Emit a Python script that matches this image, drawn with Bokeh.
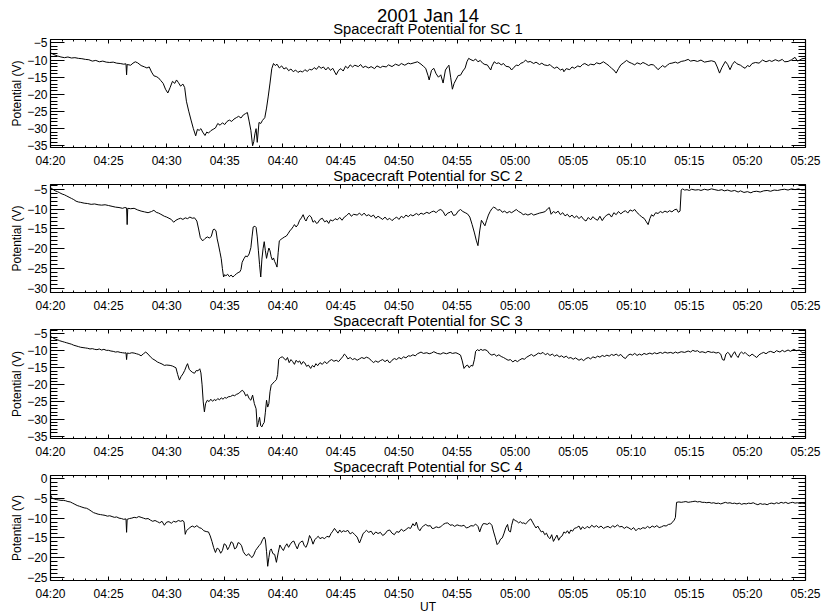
import math
from bokeh.plotting import figure
from bokeh.models import Range1d, LinearAxis, FixedTicker, SingleIntervalTicker, Title
from bokeh.layouts import column
from bokeh.embed import file_html
from bokeh.resources import INLINE

# ---------------- data ----------------
main_title = "2001 Jan 14"
panel_titles = ["Spacecraft Potential for SC 1", "Spacecraft Potential for SC 2",
                "Spacecraft Potential for SC 3", "Spacecraft Potential for SC 4"]
tick_labels = ["04:20", "04:25", "04:30", "04:35", "04:40", "04:45", "04:50",
               "04:55", "05:00", "05:05", "05:10", "05:15", "05:20", "05:25"]
y_label = "Potential (V)"
x_label = "UT"
y_ranges = [(-35.5, -4.0), (-31.0, -3.8), (-35.7, -3.8), (-25.8, 0.8)]

# (minutes after 04:20, potential V)
sc1 = [
(0.0,-7.9),(0.3,-8.4),(0.6,-8.8),(0.9,-9.1),(1.2,-9.3),(1.5,-9.1),(1.8,-9.4),(2.1,-9.3),(2.4,-9.5),(2.7,-9.6),
(3.0,-9.8),(3.3,-9.9),(3.6,-10.3),(3.9,-10.1),(4.2,-10.5),(4.5,-10.3),(4.8,-10.6),(5.1,-10.7),(5.4,-10.6),(5.7,-10.9),
(6.0,-11.0),(6.3,-11.2),(6.5,-11.1),(6.55,-14.3),(6.6,-11.3),(6.9,-11.5),(7.1,-10.9),(7.3,-10.5),(7.5,-10.8),(7.8,-11.6),
(8.1,-12.0),(8.3,-12.3),(8.5,-12.0),(8.7,-13.5),(8.9,-14.6),(9.1,-14.8),(9.3,-15.2),(9.5,-16.0),(9.7,-16.8),(9.9,-18.5),
(10.1,-19.6),(10.3,-18.0),(10.5,-16.2),(10.7,-16.8),(10.85,-15.8),(11.0,-16.5),(11.2,-17.6),(11.4,-17.0),(11.55,-18.0),(11.7,-22.0),
(11.9,-24.9),(12.1,-27.5),(12.3,-30.0),(12.5,-32.1),(12.65,-30.2),(12.8,-30.5),(12.95,-30.0),(13.1,-31.0),(13.3,-32.0),(13.45,-31.0),
(13.6,-31.3),(13.8,-30.6),(14.0,-30.2),(14.2,-29.8),(14.4,-28.5),(14.6,-29.0),(14.8,-28.3),(15.0,-28.8),(15.2,-27.9),(15.4,-27.5),
(15.6,-27.9),(15.8,-27.2),(16.0,-26.8),(16.2,-26.4),(16.4,-26.9),(16.6,-26.0),(16.8,-25.6),(16.95,-25.3),(17.1,-27.8),(17.25,-30.5),
(17.4,-35.0),(17.5,-33.8),(17.6,-31.5),(17.7,-30.0),(17.8,-34.0),(17.95,-28.2),(18.1,-28.5),(18.25,-27.6),(18.45,-26.8),(18.6,-24.0),
(18.75,-20.5),(18.9,-16.7),(19.05,-12.5),(19.2,-11.0),(19.35,-11.6),(19.5,-11.2),(19.7,-12.3),(19.9,-11.7),(20.1,-12.6),(20.3,-12.2),
(20.5,-13.1),(20.7,-12.6),(20.9,-13.4),(21.1,-12.9),(21.3,-13.6),(21.5,-13.2),(21.7,-13.5),(21.9,-12.8),(22.1,-13.3),(22.3,-12.7),
(22.5,-12.9),(22.7,-12.2),(22.9,-12.7),(23.1,-11.8),(23.3,-12.4),(23.5,-12.0),(23.7,-12.9),(23.9,-12.1),(24.1,-13.0),(24.3,-12.4),
(24.6,-14.3),(24.8,-13.0),(25.0,-12.5),(25.2,-13.2),(25.4,-11.8),(25.6,-12.4),(25.8,-11.4),(26.0,-12.0),(26.2,-11.5),(26.5,-11.9),
(26.7,-11.3),(26.9,-12.2),(27.1,-11.8),(27.4,-12.3),(27.6,-11.9),(27.9,-12.5),(28.1,-11.7),(28.4,-12.2),(28.6,-11.8),(28.9,-12.0),
(29.1,-11.4),(29.4,-11.9),(29.7,-11.2),(30.0,-11.6),(30.2,-11.0),(30.5,-11.5),(30.8,-10.9),(31.0,-11.1),(31.3,-10.8),(31.6,-10.5),
(31.9,-11.2),(32.1,-11.8),(32.3,-12.4),(32.5,-14.5),(32.6,-15.8),(32.8,-13.0),(33.0,-12.4),(33.2,-14.0),(33.4,-15.0),(33.6,-14.3),
(33.8,-16.7),(34.0,-12.9),(34.2,-11.9),(34.3,-11.5),(34.45,-15.0),(34.6,-18.5),(34.75,-16.8),(34.9,-15.8),(35.1,-14.5),(35.3,-14.4),
(35.5,-13.2),(35.7,-12.3),(35.85,-10.5),(36.0,-9.5),(36.2,-9.9),(36.4,-10.2),(36.6,-9.7),(36.8,-10.5),(37.0,-10.1),(37.2,-10.9),
(37.4,-11.3),(37.6,-11.4),(37.9,-12.9),(38.0,-11.8),(38.2,-10.5),(38.4,-11.0),(38.6,-10.8),(38.8,-11.4),(39.0,-11.0),(39.2,-11.8),
(39.5,-12.0),(39.7,-12.9),(39.9,-12.1),(40.1,-11.5),(40.3,-11.6),(40.5,-10.9),(40.7,-10.7),(40.9,-10.0),(41.1,-10.6),(41.3,-10.4),
(41.6,-11.0),(41.8,-10.6),(42.1,-11.3),(42.3,-10.9),(42.5,-11.4),(42.8,-11.6),(43.0,-11.3),(43.2,-12.0),(43.4,-12.4),(43.6,-12.0),
(43.9,-12.9),(44.1,-12.6),(44.2,-13.4),(44.4,-12.5),(44.7,-12.8),(44.9,-12.0),(45.1,-12.4),(45.4,-11.7),(45.6,-12.0),(45.8,-11.3),
(46.0,-11.0),(46.3,-11.6),(46.5,-11.2),(46.8,-11.4),(47.0,-10.8),(47.3,-11.1),(47.6,-10.5),(47.9,-11.2),(48.1,-11.7),(48.3,-12.4),
(48.5,-12.9),(48.7,-13.8),(48.9,-12.5),(49.1,-11.4),(49.3,-10.9),(49.6,-10.1),(49.8,-10.6),(50.0,-10.9),(50.3,-11.4),(50.5,-10.8),
(50.8,-11.2),(51.0,-10.7),(51.2,-11.0),(51.5,-11.6),(51.7,-11.3),(51.9,-11.4),(52.1,-12.0),(52.3,-12.8),(52.5,-12.2),(52.7,-11.6),
(52.9,-12.1),(53.1,-11.5),(53.3,-11.0),(53.5,-10.9),(53.8,-10.6),(54.0,-10.9),(54.3,-10.4),(54.6,-10.2),(54.9,-9.8),(55.1,-10.3),
(55.4,-10.1),(55.7,-10.4),(56.0,-10.0),(56.3,-10.6),(56.6,-10.4),(56.9,-10.2),(57.2,-10.5),(57.4,-12.0),(57.6,-13.8),(57.8,-12.2),
(58.1,-10.4),(58.3,-11.3),(58.5,-12.8),(58.7,-11.3),(58.9,-10.4),(59.1,-11.1),(59.4,-11.5),(59.6,-12.0),(59.8,-12.4),(60.0,-11.6),
(60.2,-11.9),(60.4,-11.0),(60.7,-10.7),(61.0,-10.9),(61.3,-10.0),(61.6,-10.5),(61.9,-10.1),(62.1,-10.4),(62.4,-9.9),(62.7,-10.3),
(63.0,-9.8),(63.2,-10.5),(63.5,-10.4),(63.8,-9.9),(64.1,-9.2),(64.3,-10.3),(64.5,-10.0),(64.7,-9.6),(65.0,-9.5),
]

sc2 = [
(0.0,-4.6),(0.2,-5.0),(0.4,-5.4),(0.6,-5.6),(0.8,-5.9),(1.0,-6.2),(1.2,-6.4),(1.4,-6.7),(1.6,-7.0),(1.8,-7.3),
(2.0,-7.6),(2.2,-8.0),(2.4,-8.2),(2.6,-8.3),(2.9,-8.5),(3.2,-8.6),(3.5,-8.8),(3.8,-8.7),(4.1,-8.9),(4.4,-9.0),
(4.7,-8.9),(5.0,-9.1),(5.3,-9.3),(5.6,-9.5),(5.9,-9.6),(6.2,-9.8),(6.4,-9.6),(6.55,-9.7),(6.6,-13.9),(6.65,-9.8),
(6.9,-9.9),(7.2,-9.8),(7.5,-10.2),(7.8,-10.5),(8.1,-10.7),(8.4,-10.9),(8.7,-10.6),(8.9,-10.3),(9.1,-10.8),(9.3,-11.0),
(9.5,-11.3),(9.8,-11.8),(10.0,-12.0),(10.2,-12.3),(10.4,-12.6),(10.6,-13.3),(10.8,-12.8),(11.0,-12.5),(11.2,-12.3),(11.4,-12.6),
(11.6,-12.2),(11.8,-12.4),(12.0,-12.0),(12.2,-12.3),(12.4,-12.2),(12.6,-13.0),(12.75,-15.0),(12.9,-17.2),(13.1,-18.0),(13.3,-17.4),
(13.5,-17.0),(13.7,-17.3),(13.85,-16.8),(14.0,-15.2),(14.1,-15.0),(14.25,-15.5),(14.35,-17.5),(14.45,-18.8),(14.6,-21.0),(14.7,-22.5),
(14.8,-25.0),(14.9,-27.1),(15.0,-26.5),(15.1,-26.8),(15.25,-26.4),(15.4,-27.0),(15.55,-26.6),(15.7,-27.1),(15.85,-26.7),(16.0,-26.3),
(16.15,-26.0),(16.3,-25.8),(16.4,-25.2),(16.5,-23.4),(16.65,-22.5),(16.8,-21.8),(16.95,-22.0),(17.1,-21.3),(17.25,-19.7),(17.35,-17.0),
(17.45,-14.5),(17.6,-14.3),(17.7,-14.6),(17.8,-17.0),(17.9,-20.5),(18.0,-24.0),(18.1,-27.1),(18.2,-22.6),(18.3,-20.0),(18.4,-18.2),
(18.5,-20.5),(18.6,-22.4),(18.7,-21.0),(18.8,-19.8),(18.9,-20.5),(19.0,-22.0),(19.1,-22.8),(19.2,-22.3),(19.3,-23.2),(19.4,-23.8),
(19.5,-24.6),(19.6,-21.0),(19.7,-18.0),(19.85,-17.6),(20.0,-17.3),(20.15,-17.0),(20.3,-16.8),(20.45,-16.2),(20.6,-15.5),(20.75,-15.0),
(20.9,-14.4),(21.0,-13.9),(21.15,-14.5),(21.3,-13.9),(21.45,-12.8),(21.6,-12.2),(21.75,-11.4),(21.9,-12.6),(22.0,-13.0),(22.15,-12.0),
(22.3,-11.6),(22.45,-12.0),(22.6,-13.3),(22.75,-12.9),(22.9,-13.6),(23.0,-13.5),(23.2,-12.6),(23.4,-12.3),(23.6,-13.2),(23.8,-12.9),
(23.95,-13.6),(24.1,-12.7),(24.3,-13.0),(24.5,-12.4),(24.7,-12.7),(24.9,-12.1),(25.1,-12.8),(25.3,-12.0),(25.5,-11.6),(25.7,-11.0),
(25.9,-11.8),(26.1,-11.3),(26.4,-11.5),(26.6,-11.0),(26.8,-11.6),(27.0,-11.0),(27.2,-11.7),(27.4,-11.4),(27.6,-11.9),(27.8,-11.5),
(28.0,-12.3),(28.2,-11.8),(28.4,-12.2),(28.6,-12.6),(28.8,-12.0),(29.0,-12.7),(29.2,-12.3),(29.4,-12.9),(29.6,-12.4),(29.8,-12.0),
(30.0,-12.6),(30.2,-11.8),(30.4,-12.2),(30.6,-11.5),(30.8,-11.9),(31.0,-11.4),(31.2,-11.7),(31.5,-11.1),(31.7,-11.5),(31.9,-11.0),
(32.1,-11.3),(32.4,-10.8),(32.6,-11.1),(32.8,-10.7),(33.0,-10.5),(33.2,-10.9),(33.4,-10.3),(33.6,-10.1),(33.8,-10.6),(34.0,-11.7),
(34.2,-11.0),(34.4,-10.8),(34.5,-10.5),(34.7,-11.6),(34.9,-11.4),(35.1,-10.5),(35.3,-10.1),(35.5,-10.6),(35.7,-10.9),(35.9,-11.2),
(36.1,-12.0),(36.3,-13.9),(36.5,-16.0),(36.65,-17.8),(36.8,-19.2),(36.95,-15.5),(37.1,-12.8),(37.25,-13.5),(37.4,-14.2),(37.55,-12.8),
(37.7,-11.5),(37.85,-10.6),(38.0,-9.9),(38.15,-9.5),(38.35,-9.8),(38.5,-10.3),(38.7,-10.1),(38.9,-10.8),(39.1,-10.5),(39.3,-11.0),
(39.5,-10.6),(39.7,-10.9),(39.9,-10.5),(40.1,-10.1),(40.3,-10.6),(40.5,-10.9),(40.7,-11.4),(40.9,-11.2),(41.1,-11.5),(41.4,-11.1),
(41.6,-11.5),(41.9,-11.2),(42.1,-11.0),(42.4,-10.8),(42.6,-10.6),(42.8,-9.9),(42.95,-9.6),(43.1,-11.3),(43.3,-10.6),(43.5,-11.0),
(43.7,-10.5),(43.9,-11.4),(44.1,-10.9),(44.3,-11.7),(44.5,-11.3),(44.7,-12.0),(44.9,-11.5),(45.1,-12.2),(45.3,-11.7),(45.5,-12.4),
(45.7,-11.8),(45.9,-12.6),(46.1,-13.0),(46.3,-12.1),(46.5,-12.7),(46.7,-11.9),(46.9,-12.5),(47.1,-12.8),(47.3,-11.8),(47.5,-12.9),
(47.7,-12.0),(47.9,-11.5),(48.1,-11.2),(48.3,-12.0),(48.5,-10.9),(48.7,-11.4),(48.9,-10.6),(49.1,-11.2),(49.3,-10.7),(49.5,-10.4),
(49.7,-11.0),(49.9,-10.2),(50.1,-10.5),(50.3,-10.1),(50.5,-10.9),(50.7,-11.4),(50.9,-12.0),(51.1,-12.3),(51.3,-13.2),(51.45,-13.9),
(51.6,-12.4),(51.75,-11.4),(51.9,-11.8),(52.1,-10.9),(52.3,-11.1),(52.5,-10.6),(52.7,-10.9),(52.9,-10.5),(53.1,-10.8),(53.3,-10.4),
(53.5,-10.7),(53.7,-10.2),(53.9,-10.0),(54.05,-10.8),(54.2,-10.5),(54.3,-5.2),(54.4,-4.9),(54.6,-5.2),(54.8,-5.1),(55.0,-5.3),
(55.2,-5.0),(55.5,-5.2),(55.8,-5.1),(56.0,-5.3),(56.3,-5.0),(56.6,-5.2),(56.9,-4.9),(57.2,-5.1),(57.5,-5.3),(57.8,-5.1),
(58.0,-5.4),(58.3,-5.2),(58.6,-5.5),(58.9,-5.3),(59.2,-5.7),(59.4,-5.4),(59.7,-5.8),(60.0,-5.6),(60.3,-5.9),(60.5,-5.6),
(60.8,-5.5),(61.1,-5.7),(61.4,-5.4),(61.7,-5.3),(62.0,-5.5),(62.3,-5.2),(62.6,-5.3),(62.9,-5.1),(63.2,-5.0),(63.5,-5.2),
(63.8,-4.9),(64.1,-5.1),(64.4,-4.9),(64.7,-5.2),(65.0,-5.1),
]

sc3 = [
(0.0,-5.8),(0.2,-6.2),(0.4,-6.6),(0.6,-6.8),(0.8,-7.1),(1.0,-7.3),(1.2,-7.5),(1.4,-7.7),(1.6,-7.9),(1.8,-8.1),
(2.0,-8.4),(2.2,-8.6),(2.4,-8.8),(2.6,-9.0),(2.8,-9.1),(3.0,-9.2),(3.2,-9.3),(3.4,-9.5),(3.6,-9.4),(3.8,-9.6),
(4.0,-9.7),(4.2,-9.5),(4.4,-9.8),(4.6,-9.6),(4.8,-9.9),(5.0,-9.9),(5.2,-10.1),(5.4,-10.2),(5.6,-10.4),(5.8,-10.3),
(6.0,-10.5),(6.2,-10.6),(6.4,-10.7),(6.5,-10.6),(6.55,-12.6),(6.6,-10.7),(6.8,-10.8),(7.0,-10.6),(7.2,-10.7),(7.4,-10.9),
(7.6,-11.1),(7.8,-11.5),(8.0,-10.9),(8.2,-10.4),(8.4,-11.0),(8.6,-11.8),(8.8,-12.4),(9.0,-12.8),(9.2,-13.3),(9.4,-13.6),
(9.6,-13.9),(9.8,-14.3),(10.0,-14.2),(10.3,-14.3),(10.5,-14.5),(10.8,-15.0),(10.95,-17.0),(11.1,-18.6),(11.25,-17.5),(11.4,-16.8),
(11.55,-15.8),(11.7,-14.5),(11.8,-13.8),(11.95,-15.5),(12.1,-16.0),(12.25,-16.4),(12.4,-16.6),(12.55,-15.8),(12.7,-15.9),(12.85,-15.3),
(12.95,-16.5),(13.05,-20.0),(13.15,-25.0),(13.25,-27.9),(13.35,-25.5),(13.5,-24.5),(13.65,-24.9),(13.8,-24.2),(13.95,-24.8),(14.1,-24.3),
(14.25,-24.6),(14.4,-24.0),(14.55,-24.4),(14.7,-23.8),(14.85,-24.2),(15.0,-23.7),(15.15,-23.9),(15.3,-23.5),(15.5,-23.4),(15.7,-23.0),
(15.85,-23.2),(16.0,-22.8),(16.15,-22.6),(16.3,-22.2),(16.5,-21.6),(16.65,-22.0),(16.8,-23.2),(16.95,-22.8),(17.1,-24.0),(17.25,-24.5),
(17.4,-23.0),(17.55,-25.5),(17.7,-27.0),(17.8,-32.3),(17.9,-31.0),(18.0,-29.5),(18.1,-32.0),(18.2,-32.3),(18.3,-31.5),(18.4,-31.0),
(18.5,-28.0),(18.6,-24.5),(18.7,-26.5),(18.8,-25.5),(18.9,-22.0),(19.0,-20.1),(19.15,-19.5),(19.3,-19.0),(19.45,-18.5),(19.55,-17.0),
(19.65,-12.5),(19.8,-12.0),(19.95,-11.8),(20.1,-12.2),(20.25,-12.8),(20.4,-12.0),(20.55,-13.5),(20.7,-12.6),(20.85,-13.2),(21.0,-14.0),
(21.15,-12.8),(21.3,-13.4),(21.45,-13.0),(21.6,-14.0),(21.75,-13.2),(21.9,-13.6),(22.05,-14.6),(22.2,-14.2),(22.4,-15.2),(22.55,-14.3),
(22.7,-14.8),(22.85,-13.8),(23.0,-14.4),(23.2,-13.5),(23.4,-14.0),(23.6,-13.2),(23.8,-13.8),(24.0,-13.0),(24.2,-12.6),(24.4,-13.1),
(24.6,-12.8),(24.8,-13.2),(25.0,-12.4),(25.15,-11.8),(25.3,-11.0),(25.45,-11.5),(25.6,-12.4),(25.8,-12.0),(26.0,-12.6),(26.2,-12.3),
(26.4,-12.8),(26.6,-12.4),(26.8,-12.0),(27.0,-12.3),(27.2,-11.9),(27.4,-12.2),(27.6,-12.8),(27.8,-13.5),(28.0,-13.0),(28.2,-13.4),
(28.4,-12.9),(28.6,-12.6),(28.8,-13.2),(29.0,-12.7),(29.2,-13.6),(29.4,-12.8),(29.6,-12.3),(29.8,-12.6),(30.0,-12.0),(30.2,-12.4),
(30.4,-11.8),(30.6,-12.1),(30.8,-11.5),(31.0,-11.6),(31.2,-11.2),(31.4,-11.5),(31.6,-10.9),(31.9,-10.4),(32.1,-10.8),(32.4,-10.6),
(32.6,-10.9),(32.8,-10.7),(33.0,-10.3),(33.3,-10.8),(33.6,-11.0),(33.8,-10.6),(34.1,-10.9),(34.4,-10.5),(34.6,-10.8),(34.9,-10.6),
(35.1,-10.9),(35.3,-11.3),(35.45,-13.0),(35.6,-15.2),(35.75,-14.5),(35.9,-14.2),(36.05,-15.0),(36.2,-14.3),(36.35,-14.5),(36.5,-12.5),
(36.6,-10.2),(36.75,-9.7),(36.9,-10.0),(37.05,-9.6),(37.2,-9.9),(37.4,-9.7),(37.6,-10.0),(37.8,-10.9),(38.0,-11.3),(38.2,-11.0),
(38.4,-11.6),(38.6,-11.2),(38.8,-11.7),(39.0,-12.0),(39.2,-12.4),(39.4,-12.8),(39.6,-12.6),(39.8,-13.3),(40.0,-12.8),(40.2,-13.2),
(40.4,-12.7),(40.6,-12.3),(40.8,-12.5),(41.0,-11.9),(41.2,-11.5),(41.4,-11.1),(41.6,-11.6),(41.8,-11.2),(42.0,-10.7),(42.2,-10.9),
(42.4,-10.5),(42.6,-11.2),(42.8,-10.8),(43.0,-11.4),(43.2,-11.0),(43.4,-11.6),(43.6,-11.2),(43.8,-11.8),(44.0,-11.5),(44.2,-12.0),
(44.4,-11.6),(44.6,-12.2),(44.8,-12.0),(45.0,-12.5),(45.2,-12.1),(45.5,-12.8),(45.7,-12.4),(45.9,-12.9),(46.1,-12.3),(46.3,-12.0),
(46.5,-12.4),(46.7,-11.8),(46.9,-12.1),(47.1,-11.6),(47.3,-11.9),(47.5,-11.4),(47.7,-11.7),(47.9,-11.3),(48.1,-11.6),(48.3,-11.1),
(48.5,-11.4),(48.7,-11.0),(48.9,-11.5),(49.1,-11.1),(49.3,-11.9),(49.5,-12.3),(49.7,-11.4),(49.9,-11.0),(50.1,-11.3),(50.3,-10.8),
(50.5,-11.4),(50.7,-11.0),(50.9,-11.3),(51.1,-10.8),(51.3,-11.1),(51.6,-10.7),(51.8,-11.0),(52.0,-10.6),(52.2,-10.9),(52.5,-10.5),
(52.7,-10.8),(52.9,-10.4),(53.1,-10.7),(53.4,-10.5),(53.6,-10.8),(53.8,-10.4),(54.0,-10.7),(54.3,-10.3),(54.6,-10.5),(54.9,-10.1),
(55.1,-10.4),(55.3,-9.9),(55.5,-10.2),(55.7,-10.0),(55.9,-10.5),(56.1,-10.3),(56.4,-10.6),(56.6,-10.2),(56.9,-10.5),(57.1,-10.4),
(57.3,-10.7),(57.5,-10.5),(57.7,-11.0),(57.85,-12.6),(58.0,-12.8),(58.15,-11.0),(58.3,-10.5),(58.45,-10.9),(58.6,-12.0),(58.75,-11.0),
(58.9,-10.3),(59.05,-11.4),(59.2,-12.0),(59.35,-10.8),(59.5,-10.4),(59.65,-10.9),(59.8,-10.5),(60.0,-11.2),(60.2,-11.6),(60.4,-11.0),
(60.6,-11.5),(60.8,-12.0),(61.0,-11.2),(61.2,-10.8),(61.4,-10.5),(61.6,-10.9),(61.8,-10.4),(62.0,-10.2),(62.3,-10.6),(62.5,-10.0),
(62.8,-10.4),(63.0,-9.9),(63.2,-10.3),(63.5,-9.8),(63.7,-10.2),(64.0,-9.6),(64.2,-10.0),(64.5,-9.8),(64.7,-10.6),(65.0,-10.5),
]

sc4 = [
(0.0,-4.1),(0.15,-5.0),(0.3,-5.1),(0.5,-5.3),(0.7,-5.4),(0.9,-5.5),(1.1,-5.5),(1.3,-5.6),(1.5,-5.8),(1.7,-5.9),
(1.9,-6.2),(2.1,-6.5),(2.3,-6.8),(2.5,-7.0),(2.7,-7.2),(2.9,-7.4),(3.1,-7.5),(3.3,-7.8),(3.5,-8.2),(3.7,-8.6),
(3.9,-8.8),(4.1,-9.0),(4.3,-9.1),(4.5,-9.2),(4.7,-9.3),(4.9,-9.5),(5.1,-9.4),(5.3,-9.6),(5.5,-9.8),(5.7,-9.7),
(5.9,-10.0),(6.1,-10.1),(6.3,-10.3),(6.5,-10.2),(6.55,-13.6),(6.6,-10.3),(6.8,-10.1),(7.0,-10.0),(7.2,-9.8),(7.4,-9.9),
(7.6,-9.6),(7.8,-9.8),(8.0,-10.0),(8.2,-10.2),(8.4,-10.1),(8.6,-10.5),(8.8,-10.8),(9.0,-10.6),(9.2,-10.9),(9.4,-11.2),
(9.6,-10.8),(9.8,-11.8),(10.0,-11.0),(10.2,-10.9),(10.4,-11.3),(10.6,-10.8),(10.8,-11.0),(11.0,-10.6),(11.2,-10.8),(11.4,-10.6),
(11.5,-11.0),(11.6,-14.1),(11.7,-13.2),(11.85,-12.8),(12.0,-12.4),(12.2,-12.0),(12.4,-12.3),(12.6,-11.9),(12.8,-12.4),(13.0,-12.6),
(13.2,-13.2),(13.4,-13.4),(13.6,-13.5),(13.75,-14.5),(13.9,-15.9),(14.05,-17.5),(14.2,-18.7),(14.35,-17.6),(14.5,-17.9),(14.65,-18.9),
(14.8,-18.2),(14.95,-16.5),(15.1,-16.8),(15.25,-18.0),(15.4,-17.2),(15.55,-16.0),(15.7,-16.3),(15.85,-17.8),(16.0,-17.5),(16.15,-16.2),
(16.3,-16.4),(16.45,-17.0),(16.6,-18.5),(16.75,-19.2),(16.9,-19.5),(17.05,-19.0),(17.2,-19.6),(17.35,-20.0),(17.5,-19.3),(17.65,-18.2),
(17.8,-17.6),(17.95,-17.0),(18.1,-16.5),(18.25,-15.5),(18.4,-14.8),(18.5,-15.5),(18.6,-18.5),(18.7,-22.2),(18.8,-20.0),(18.9,-18.2),
(19.0,-17.8),(19.15,-19.0),(19.3,-19.2),(19.45,-21.2),(19.6,-18.8),(19.75,-16.8),(19.9,-17.6),(20.05,-18.2),(20.2,-17.2),(20.35,-16.5),
(20.5,-17.4),(20.65,-16.6),(20.8,-16.0),(20.95,-15.8),(21.1,-16.9),(21.25,-17.8),(21.4,-16.5),(21.55,-16.0),(21.7,-15.8),(21.85,-17.0),
(22.0,-17.4),(22.15,-16.3),(22.3,-14.4),(22.45,-15.2),(22.6,-16.6),(22.75,-15.5),(22.9,-15.0),(23.05,-14.6),(23.2,-15.2),(23.4,-14.9),
(23.6,-15.2),(23.8,-14.6),(24.0,-14.8),(24.15,-13.9),(24.3,-13.3),(24.45,-12.6),(24.6,-13.2),(24.75,-13.8),(24.9,-13.0),(25.05,-13.6),
(25.2,-13.2),(25.4,-13.4),(25.6,-13.1),(25.8,-14.0),(26.0,-13.6),(26.2,-14.2),(26.4,-14.8),(26.6,-16.3),(26.75,-15.2),(26.9,-14.0),
(27.05,-13.5),(27.2,-13.1),(27.4,-13.6),(27.6,-13.3),(27.8,-14.2),(28.0,-13.5),(28.2,-13.9),(28.4,-13.6),(28.6,-14.4),(28.8,-14.0),
(29.0,-13.2),(29.2,-13.0),(29.4,-13.8),(29.6,-14.2),(29.8,-13.4),(30.0,-13.6),(30.2,-12.8),(30.4,-13.3),(30.6,-12.9),(30.8,-12.4),
(31.0,-12.6),(31.2,-11.4),(31.35,-12.0),(31.5,-11.0),(31.65,-12.6),(31.8,-13.2),(31.95,-12.4),(32.1,-12.0),(32.3,-11.6),(32.5,-12.0),
(32.7,-11.9),(32.85,-12.6),(33.0,-12.6),(33.2,-12.2),(33.4,-12.4),(33.6,-12.2),(33.8,-11.6),(34.0,-11.3),(34.2,-11.2),(34.4,-11.8),
(34.6,-11.7),(34.8,-12.1),(35.0,-11.7),(35.2,-11.9),(35.4,-12.0),(35.6,-11.8),(35.8,-12.5),(36.0,-12.3),(36.2,-11.9),(36.4,-12.0),
(36.6,-11.5),(36.8,-12.1),(36.95,-13.5),(37.1,-12.2),(37.25,-11.4),(37.4,-11.4),(37.6,-11.6),(37.8,-11.2),(38.0,-11.8),(38.15,-13.5),
(38.3,-15.0),(38.45,-16.7),(38.6,-16.2),(38.75,-15.3),(38.9,-15.0),(39.05,-13.8),(39.2,-12.4),(39.35,-11.6),(39.45,-13.2),(39.6,-13.5),
(39.7,-11.8),(39.85,-10.2),(40.0,-10.6),(40.15,-10.8),(40.3,-11.2),(40.45,-10.9),(40.6,-11.3),(40.75,-11.2),(40.9,-11.5),(41.05,-11.0),
(41.2,-10.5),(41.35,-10.2),(41.5,-11.0),(41.65,-11.8),(41.8,-12.5),(41.95,-12.0),(42.1,-12.8),(42.25,-13.5),(42.4,-13.3),(42.55,-14.2),
(42.7,-13.8),(42.85,-14.8),(43.0,-15.2),(43.15,-14.2),(43.3,-15.9),(43.45,-15.1),(43.6,-14.3),(43.75,-15.6),(43.9,-14.8),(44.05,-14.5),
(44.2,-13.5),(44.35,-13.8),(44.5,-13.2),(44.65,-13.9),(44.8,-13.0),(44.95,-13.3),(45.1,-12.6),(45.3,-12.4),(45.5,-12.0),(45.65,-12.9),
(45.8,-12.2),(46.0,-12.7),(46.2,-12.1),(46.4,-12.5),(46.6,-11.8),(46.8,-12.3),(47.0,-11.9),(47.2,-12.4),(47.4,-12.0),(47.6,-12.6),
(47.8,-12.3),(48.0,-12.1),(48.2,-12.5),(48.4,-11.9),(48.6,-12.3),(48.8,-11.7),(49.0,-12.2),(49.2,-12.1),(49.4,-12.6),(49.6,-12.2),
(49.8,-12.5),(50.0,-12.9),(50.2,-12.4),(50.4,-13.2),(50.6,-12.6),(50.8,-12.8),(51.0,-12.4),(51.2,-12.6),(51.4,-12.1),(51.6,-12.5),
(51.8,-12.0),(52.0,-12.3),(52.2,-11.9),(52.4,-12.4),(52.6,-12.2),(52.8,-11.9),(53.0,-12.0),(53.2,-11.6),(53.4,-11.5),(53.55,-11.0),
(53.7,-10.5),(53.8,-9.8),(53.9,-6.0),(54.1,-5.9),(54.3,-6.0),(54.5,-5.9),(54.7,-5.8),(54.9,-6.0),(55.1,-5.9),(55.3,-5.8),
(55.5,-5.7),(55.7,-5.9),(55.9,-5.8),(56.1,-6.0),(56.3,-6.0),(56.5,-6.1),(56.7,-6.0),(56.9,-6.2),(57.1,-6.1),(57.3,-6.3),
(57.5,-6.2),(57.7,-6.4),(57.9,-6.2),(58.1,-6.0),(58.3,-6.2),(58.5,-6.1),(58.7,-6.3),(58.9,-6.2),(59.1,-6.4),(59.3,-6.2),
(59.5,-6.5),(59.7,-6.3),(59.9,-6.4),(60.1,-6.2),(60.3,-6.3),(60.5,-6.1),(60.7,-6.4),(60.9,-6.6),(61.1,-6.3),(61.3,-6.5),
(61.5,-6.4),(61.7,-6.6),(61.9,-6.3),(62.1,-6.2),(62.3,-6.4),(62.5,-6.1),(62.7,-6.3),(62.9,-6.0),(63.1,-6.2),(63.3,-6.0),
(63.5,-6.3),(63.7,-6.1),(63.9,-6.0),(64.1,-6.2),(64.3,-6.1),(64.5,-6.3),(64.7,-6.2),(65.0,-6.3),
]

series = [sc1, sc2, sc3, sc4]

# ---------------- layout / style ----------------
FONT = "Liberation Sans"
W = 829
heights = [182, 145, 146, 143]
tops = [39, 2, 2, 2]
bottoms = [34, 33, 35, 32]


def to_min(lbl):
    h, m = lbl.split(":")
    return int(h) * 60 + int(m) - (4 * 60 + 20)


xticks = [to_min(s) for s in tick_labels]
x0, x1 = xticks[0], xticks[-1]
xminor = list(range(x0, x1 + 1))
x_over = {float(k): s for k, s in zip(xticks, tick_labels)}
x_blank = {float(k): "" for k in xticks}


def y_blank(lo, hi):
    return {float(5 * k): "" for k in range(math.ceil(lo / 5), math.floor(hi / 5) + 1)}


def style_axis(ax, is_x, blank):
    ax.axis_line_color = "black"
    ax.axis_line_width = 1.2
    ax.major_tick_line_color = "black"
    ax.minor_tick_line_color = "black"
    ax.major_tick_line_width = 1
    ax.minor_tick_line_width = 1
    ax.major_tick_out = 0
    ax.minor_tick_out = 0
    ax.major_tick_in = 4 if is_x else 14
    ax.minor_tick_in = 2 if is_x else 7
    ax.major_label_text_font = FONT
    ax.major_label_text_color = "black"
    ax.major_label_text_font_size = "12px"
    ax.axis_label_text_font = FONT
    ax.axis_label_text_font_style = "normal"
    ax.axis_label_text_font_size = "12px"
    ax.axis_label_text_color = "black"
    if is_x:
        ax.ticker = FixedTicker(ticks=xticks, minor_ticks=xminor)
    else:
        ax.ticker = SingleIntervalTicker(interval=5, num_minor_ticks=5)
    if blank is None:
        ax.major_label_standoff = 6 if is_x else 3
        if is_x:
            ax.major_label_overrides = x_over
    else:
        ax.major_label_standoff = 0
        ax.major_label_text_font_size = "1px"
        ax.major_label_overrides = blank


def title(text, size, align_v, standoff):
    return Title(text=text, align="center", vertical_align=align_v, standoff=standoff,
                 text_font=FONT, text_font_size=size, text_font_style="normal",
                 text_color="black")


figs = []
for i in range(4):
    t = [a for a, b in series[i]]
    v = [b for a, b in series[i]]
    lo, hi = y_ranges[i]
    p = figure(width=W, height=heights[i], title=None,
               x_range=Range1d(x0, x1), y_range=Range1d(lo, hi),
               output_backend="svg", toolbar_location=None, tools="",
               min_border_left=50, min_border_right=24,
               min_border_top=tops[i], min_border_bottom=bottoms[i])
    p.grid.visible = False
    p.outline_line_color = None
    p.background_fill_color = "white"
    p.border_fill_color = "white"
    p.line(t, v, line_color="black", line_width=1.0)
    p.add_layout(LinearAxis(), "above")
    p.add_layout(LinearAxis(), "right")
    style_axis(p.below[0], True, None)
    style_axis(p.above[0], True, x_blank)
    style_axis(p.left[0], False, None)
    style_axis(p.right[0], False, y_blank(lo, hi))
    p.left[0].axis_label = y_label
    p.left[0].axis_label_standoff = 0
    if i == 3:
        p.below[0].axis_label = x_label
        p.below[0].axis_label_standoff = -4
    figs.append(p)

# titles: SC1 + main above panel 1; SC2..SC4 below the previous panel
figs[0].add_layout(title(panel_titles[0], "14.7px", "bottom", 6), "above")
figs[0].add_layout(title(main_title, "18.5px", "bottom", -21), "above")
for i in range(3):
    figs[i].add_layout(title(panel_titles[i + 1], "14.7px", "top", -6), "below")

layout = column(*figs)
open("out.html", "w").write(file_html(layout, INLINE))
